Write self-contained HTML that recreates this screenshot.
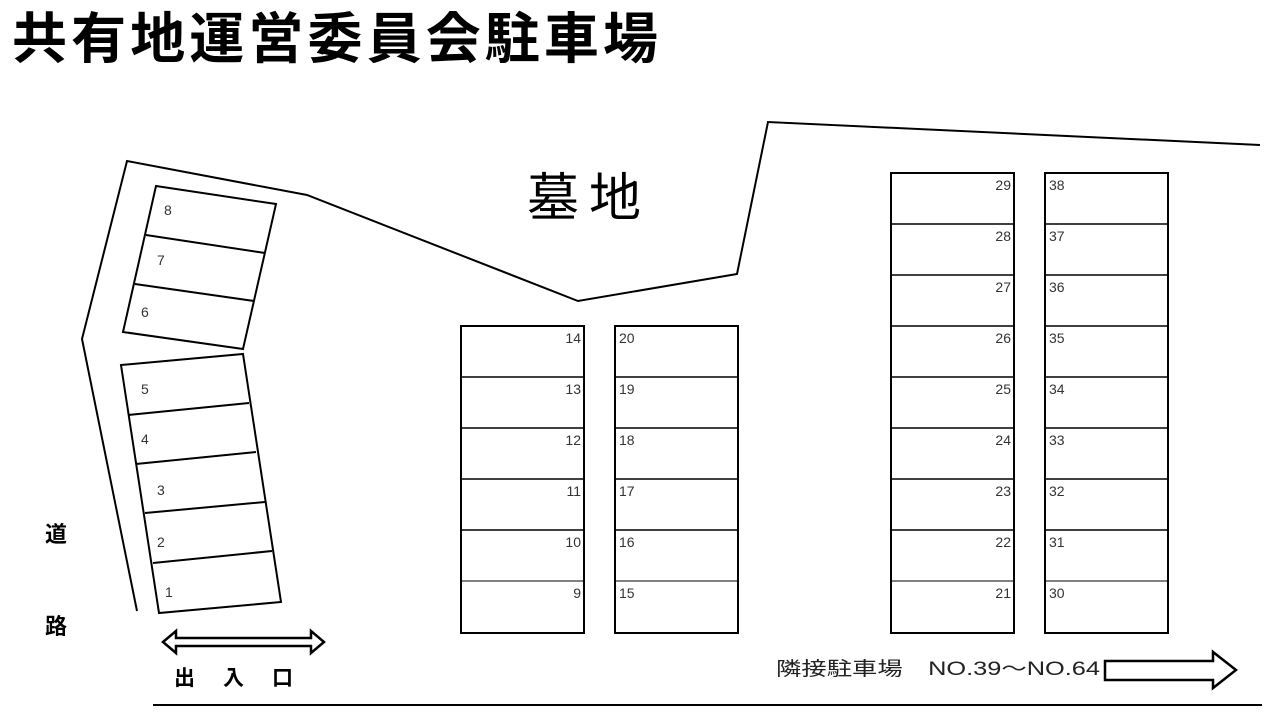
<!DOCTYPE html>
<html><head><meta charset="utf-8"><style>
body{margin:0;background:#fff;width:1280px;height:720px;overflow:hidden}
svg{display:block}
text{font-family:"Liberation Sans","Noto Sans CJK JP",sans-serif;fill:#333}
.n{font-size:14px}
</style></head><body>
<svg width="1280" height="720" viewBox="0 0 1280 720">
<text x="12" y="58" font-size="55" font-weight="bold" style="font-family:'Noto Sans CJK JP',sans-serif;fill:#000" textLength="646" lengthAdjust="spacing">共有地運営委員会駐車場</text>
<text x="527" y="216" font-size="52" style="font-family:'Noto Sans CJK JP',sans-serif;fill:#000" textLength="114" lengthAdjust="spacing">墓地</text>
<g fill="none" stroke="#000" stroke-width="2">
<polyline points="137,611 82,339 127,161 307,195 578,301 737,274 768,122 1260,145"/>
<polygon points="156,186 276,204 243,349 123,332"/>
<line x1="146" y1="235" x2="265" y2="253"/>
<line x1="135" y1="284" x2="254" y2="301"/>
<polygon points="121,365 243,354 281,602 159,613"/>
<line x1="128" y1="415" x2="249" y2="403"/>
<line x1="136" y1="464" x2="256" y2="452"/>
<line x1="145" y1="513" x2="265" y2="502"/>
<line x1="153" y1="563" x2="272" y2="551"/>
<rect x="461" y="326" width="123" height="307"/>
<rect x="615" y="326" width="123" height="307"/>
<rect x="891" y="173" width="123" height="460"/>
<rect x="1045" y="173" width="123" height="460"/>
<line x1="153" y1="705" x2="1262" y2="705"/>
</g>
<g stroke="#000" stroke-width="1.5">
<path d="M461 377H584M461 428H584M461 479H584M461 530H584M615 377H738M615 428H738M615 479H738M615 530H738"/>
<path d="M461 581H584M615 581H738" stroke-width="1"/>
<path d="M891 224H1014M891 275H1014M891 326H1014M891 377H1014M891 428H1014M891 479H1014M891 530H1014M1045 224H1168M1045 275H1168M1045 326H1168M1045 377H1168M1045 428H1168M1045 479H1168M1045 530H1168"/>
<path d="M891 581H1014M1045 581H1168" stroke-width="1"/>
</g>
<g class="n">
<text x="164" y="215">8</text><text x="157" y="265">7</text><text x="141" y="317">6</text>
<text x="141" y="394">5</text><text x="141" y="444">4</text><text x="157" y="495">3</text><text x="157" y="547">2</text><text x="165" y="597">1</text>
</g>
<g class="n" text-anchor="end">
<text x="581" y="343">14</text><text x="581" y="394">13</text><text x="581" y="445">12</text><text x="581" y="496">11</text><text x="581" y="547">10</text><text x="581" y="598">9</text>
<text x="1011" y="190">29</text><text x="1011" y="241">28</text><text x="1011" y="292">27</text><text x="1011" y="343">26</text><text x="1011" y="394">25</text><text x="1011" y="445">24</text><text x="1011" y="496">23</text><text x="1011" y="547">22</text><text x="1011" y="598">21</text>
</g>
<g class="n">
<text x="619" y="343">20</text><text x="619" y="394">19</text><text x="619" y="445">18</text><text x="619" y="496">17</text><text x="619" y="547">16</text><text x="619" y="598">15</text>
<text x="1049" y="190">38</text><text x="1049" y="241">37</text><text x="1049" y="292">36</text><text x="1049" y="343">35</text><text x="1049" y="394">34</text><text x="1049" y="445">33</text><text x="1049" y="496">32</text><text x="1049" y="547">31</text><text x="1049" y="598">30</text>
</g>
<text x="45" y="542" font-size="22" font-weight="bold" style="font-family:'Noto Sans CJK JP',sans-serif;fill:#000">道</text>
<text x="45" y="634" font-size="22" font-weight="bold" style="font-family:'Noto Sans CJK JP',sans-serif;fill:#000">路</text>
<text x="174" y="685" font-size="21" font-weight="bold" style="font-family:'Noto Sans CJK JP',sans-serif;fill:#000" letter-spacing="28">出入口</text>
<polygon points="163,642 176,631 176,638 311,638 311,631 324,642 311,653 311,646 176,646 176,653" fill="#fff" stroke="#000" stroke-width="2.5"/>
<text x="776" y="675" font-size="19" style="fill:#222" textLength="324" lengthAdjust="spacingAndGlyphs">隣接駐車場　NO.39～NO.64</text>
<polygon points="1105,661 1213,661 1213,652 1236,670 1213,688 1213,680 1105,680" fill="#fff" stroke="#000" stroke-width="2.5"/>
</svg>
</body></html>
